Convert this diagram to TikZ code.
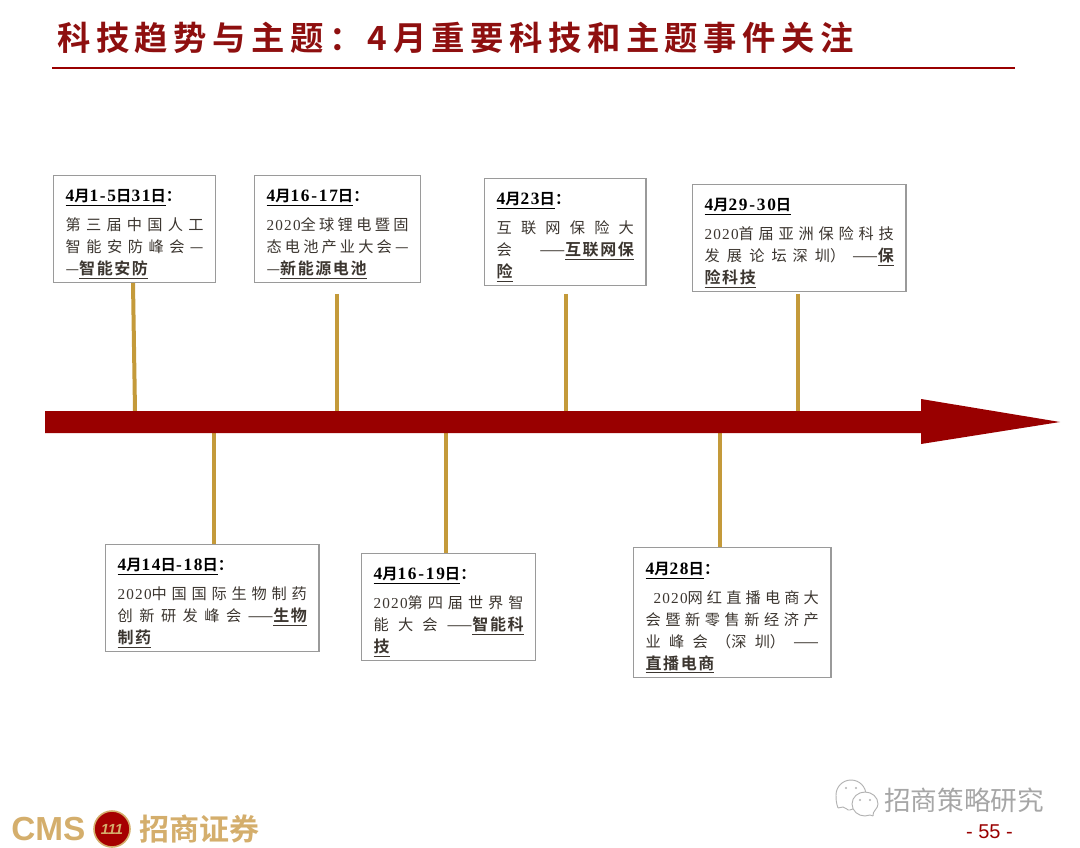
\documentclass[tikz,border=0pt]{standalone}
\usepackage{fontspec}
\setmainfont{Noto Sans CJK SC}[BoldFont={* Bold}]
\newfontfamily\titlefont{Noto Sans CJK SC Bold}[LetterSpace=16.5]
\newfontfamily\headfont{Noto Sans CJK SC Bold}[LetterSpace=10]
\newfontfamily\latserif{Liberation Serif}[LetterSpace=8]
\newfontfamily\latbold{Liberation Serif Bold}[LetterSpace=10]
\newfontfamily\latsans{Liberation Sans}
\usetikzlibrary{positioning,calc}
\definecolor{axisred}{HTML}{990000}
\definecolor{titlered}{HTML}{8E0F0F}
\definecolor{stemgold}{HTML}{C49A3A}
\definecolor{logotan}{HTML}{D4AE6C}
\definecolor{boxgray}{HTML}{9A9A9A}
\definecolor{bodytext}{HTML}{3C3630}
\XeTeXlinebreaklocale "zh"
\XeTeXlinebreakskip=0pt plus 4pt
\newcommand{\yr}[1]{{\latserif #1}}
\newcommand{\dt}[1]{{\latbold\fontsize{13pt}{16.5pt}\selectfont #1}}
\newcommand{\evdate}[1]{\rule{0pt}{17pt}{\color{black}\fontsize{11.5pt}{16.5pt}\headfont #1}\\[5pt]}
\newcommand{\hl}[1]{\underline{\headfont\fontsize{12pt}{16.5pt}\selectfont #1}}
\begin{document}
\begin{tikzpicture}[x=0.75pt,y=-0.75pt,
  eventbox/.style={draw=boxgray, line width=0.9pt, fill=white, anchor=north west, align=justify, inner xsep=9pt, inner ysep=0pt, text=bodytext, font=\fontsize{11.4pt}{16.5pt}\selectfont},
  stem/.style={draw=stemgold, line width=3pt}
]
\useasboundingbox (0,0) rectangle (1080,848);

% heading
\node[anchor=west, inner sep=0pt, text=titlered, font=\fontsize{25pt}{30pt}\titlefont] (heading) at (57,38) {科技趋势与主题：\,4月重要科技和主题事件关注};
\coordinate (ruleL) at (52,68);
\coordinate (ruleR) at (1015,68);
\draw[axisred, line width=1.5pt] (ruleL) -- (ruleR);

% stems above
\coordinate (a1) at (135,411);
\coordinate (a2) at (337,411);
\coordinate (a3) at (566,411);
\coordinate (a4) at (798,411);
\coordinate (t1) at (133,283);
\coordinate (t2) at (337,294);
\coordinate (t3) at (566,294);
\coordinate (t4) at (798,294);
% stems below
\coordinate (b1) at (214,433);
\coordinate (b2) at (446,433);
\coordinate (b3) at (720,433);

% boxes above the line
\node[eventbox, text width=103.5pt, minimum height=80pt] (ai) at (53,175) {\evdate{\underline{\dt{4}月\dt{1-5}日\dt{31}日}：}第三届中国人工\linebreak 智能安防峰会—\linebreak —\hl{智能安防}};
\node[eventbox, text width=106.5pt, minimum height=80pt] (battery) at (254,175) {\evdate{\underline{\dt{4}月\dt{16-17}日}：}\yr{2020}全球锂电暨固\linebreak 态电池产业大会—\linebreak —\hl{新能源电池}};
\node[eventbox, text width=103pt, minimum height=80pt] (insure) at (484,178) {\evdate{\underline{\dt{4}月\dt{23}日}：}互联网保险大\linebreak 会——\hl{互联网保}\linebreak \hl{险}};
\node[eventbox, text width=142pt, minimum height=80pt] (fintech) at (692,184) {\evdate{\underline{\dt{4}月\dt{29-30}日}}\yr{2020}首届亚洲保险科技\linebreak 发展论坛 深圳）——\hl{保}\linebreak \hl{险科技}};

% boxes below the line
\node[eventbox, text width=142pt, minimum height=80pt] (bio) at (105,544) {\evdate{\underline{\dt{4}月\dt{14}日\dt{-18}日}：}\yr{2020}中国国际生物制药\linebreak 创新研发峰会——\hl{生物}\linebreak \hl{制药}};
\node[eventbox, text width=112.5pt, minimum height=80pt] (smart) at (361,553) {\evdate{\underline{\dt{4}月\dt{16-19}日}：}\yr{2020}第四届世界智\linebreak 能大会——\hl{智能科}\linebreak \hl{技}};
\node[eventbox, text width=130pt, minimum height=97.5pt] (live) at (633,547) {\evdate{\underline{\dt{4}月\dt{28}日}：}\hspace*{6pt}\yr{2020}网红直播电商大\linebreak 会暨新零售新经济产\linebreak 业峰会（深圳）——\linebreak \hl{直播电商}};

% connectors
\draw[stem] (t1) -- (a1);
\draw[stem] (t2) -- (a2);
\draw[stem] (t3) -- (a3);
\draw[stem] (t4) -- (a4);
\draw[stem] (b1) -- (b1 |- bio.north);
\draw[stem] (b2) -- (b2 |- smart.north);
\draw[stem] (b3) -- (b3 |- live.north);

% main arrow
\fill[axisred] (45,411) -- (921,411) -- (921,399) -- (1060,422) -- (921,444) -- (921,433) -- (45,433) -- cycle;

% logo
\node[anchor=west, inner sep=0pt, text=logotan, font=\latsans\fontsize{25pt}{30pt}\selectfont\bfseries] (cms) at (11,829) {CMS};
\node[circle, minimum size=27pt, inner sep=0pt, fill=red!65!black, draw=logotan, line width=1.2pt, text=logotan, font=\latsans\fontsize{11pt}{12pt}\selectfont\bfseries\itshape] (badge) at (112,829) {111};
\node[anchor=west, inner sep=0pt, text=logotan, font=\fontsize{22.5pt}{24pt}\selectfont\bfseries] (cmsname) at (139,829) {招商证券};
\node[anchor=east, inner sep=0pt, text=axisred, font=\latsans\fontsize{15pt}{18pt}\selectfont] (page) at (1013,832) {- 55 -};

% watermark
\draw[gray!60, line width=0.7pt, fill=white] (838,808) -- (843,807) to[out=0,in=200] (850,810) to[out=20,in=-90] (866,795) to[out=90,in=0] (851,780) to[out=180,in=90] (836,795) to[out=-90,in=110] (838,808);
\draw[gray!60, line width=0.7pt, fill=white] (873,816) -- (870,815) to[out=180,in=0] (865,816) to[out=180,in=-90] (852,804) to[out=90,in=180] (865,792) to[out=0,in=90] (878,804) to[out=-90,in=100] (873,816);
\fill[gray!60] (846,788) circle (1.2) (856,788) circle (1.2) (860,800) circle (1.2) (870,800) circle (1.2);
\node[anchor=west, inner sep=0pt, text=gray!70, font=\fontsize{20pt}{24pt}\selectfont] (wechat) at (884,800) {招商策略研究};
\end{tikzpicture}
\end{document}
